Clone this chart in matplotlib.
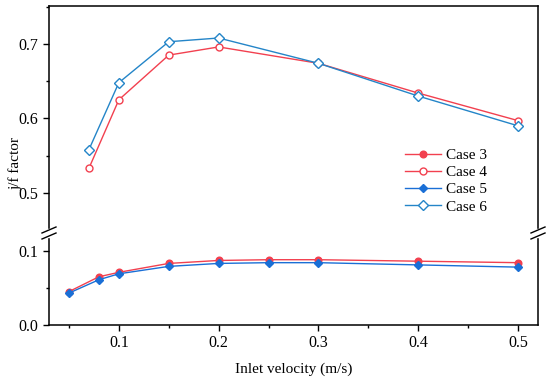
import matplotlib
matplotlib.use("Agg")
import matplotlib.pyplot as plt
from matplotlib.ticker import MultipleLocator

plt.rcParams['font.family'] = ['Liberation Serif', 'DejaVu Serif']
plt.rcParams['font.size'] = 10

# Data
x_low = [0.05, 0.08, 0.1, 0.15, 0.2, 0.25, 0.3, 0.4, 0.5]
case3 = [0.045, 0.065, 0.071, 0.083, 0.087, 0.088, 0.088, 0.086, 0.084]
case5 = [0.043, 0.061, 0.069, 0.079, 0.083, 0.084, 0.084, 0.081, 0.078]
x_high = [0.07, 0.1, 0.15, 0.2, 0.3, 0.4, 0.5]
case4 = [0.533, 0.625, 0.685, 0.696, 0.674, 0.634, 0.597]
case6 = [0.558, 0.648, 0.703, 0.708, 0.674, 0.630, 0.590]
labels = ["Case 3", "Case 4", "Case 5", "Case 6"]

red = '#f2404f'
blue5 = '#1a6fd6'
blue6 = '#2485c8'

fig = plt.figure(figsize=(5.5, 3.8), dpi=100)
left, right = 49/550, 538/550
bot, brk, top = 1-325/380, 1-233/380, 1-6/380
ax_lo = fig.add_axes([left, bot, right-left, brk-bot])
ax_hi = fig.add_axes([left, brk, right-left, top-brk], sharex=ax_lo)

h3, = ax_lo.plot(x_low, case3, '-o', color=red, lw=1, ms=4.8, mfc=red, mec=red, label=labels[0])
h5, = ax_lo.plot(x_low, case5, '-D', color=blue5, lw=1, ms=4.2, mfc=blue5, mec=blue5, label=labels[2])
h4, = ax_hi.plot(x_high, case4, '-o', color=red, lw=1, ms=5.0, mfc='white', mec=red, label=labels[1])
h6, = ax_hi.plot(x_high, case6, '-D', color=blue6, lw=1, ms=4.8, mfc='white', mec=blue6, label=labels[3])

ax_lo.set_xlim(0.03, 0.52)
ax_lo.set_ylim(0, 0.124)
ax_hi.set_ylim(0.446, 0.751)

ax_lo.xaxis.set_major_locator(MultipleLocator(0.1))
ax_lo.xaxis.set_minor_locator(MultipleLocator(0.05))
ax_lo.yaxis.set_major_locator(MultipleLocator(0.1))
ax_lo.yaxis.set_minor_locator(MultipleLocator(0.05))
ax_hi.yaxis.set_major_locator(MultipleLocator(0.1))
ax_hi.yaxis.set_minor_locator(MultipleLocator(0.05))
ax_lo.xaxis.set_major_formatter(plt.FuncFormatter(lambda v, p: f"{v:.1f}"))
ax_lo.yaxis.set_major_formatter(plt.FuncFormatter(lambda v, p: f"{v:.1f}"))
ax_hi.yaxis.set_major_formatter(plt.FuncFormatter(lambda v, p: f"{v:.1f}"))

for ax in (ax_lo, ax_hi):
    ax.tick_params(which='major', direction='out', length=4, width=1, labelsize=11.5)
    ax.tick_params(which='minor', direction='out', length=2.5, width=1)
    for s in ax.spines.values():
        s.set_linewidth(1.1)
ax_hi.spines['bottom'].set_visible(False)
ax_lo.spines['top'].set_visible(False)
ax_hi.tick_params(axis='x', which='both', bottom=False, labelbottom=False)

ax_lo.set_xlabel("Inlet velocity (m/s)", fontsize=11, labelpad=8)
fig.text(0.028, 0.57, "j/f factor", rotation=90, fontsize=11, va='center', ha='center')

# break marks
for xf in (left, right):
    xp = xf * 550
    fig.patches.append(plt.Rectangle(((xp-3)/550, (380-237)/380), 6/550, 8/380,
                                     transform=fig.transFigure, color='white', zorder=5))
    for dy in (-3, 3):
        yc = 380 - 233 + dy
        fig.lines.append(plt.Line2D([(xp-7)/550, (xp+7)/550], [(yc-3)/380, (yc+3)/380],
                                    transform=fig.transFigure, color='black', lw=1, zorder=6))

ax_hi.legend([h3, h4, h5, h6], labels, loc='upper left', bbox_to_anchor=(0.715, 0.40),
             frameon=False, fontsize=11, handlelength=2.4, labelspacing=0.23,
             handletextpad=0.3, borderaxespad=0)

fig.savefig("out.png", dpi=100)
